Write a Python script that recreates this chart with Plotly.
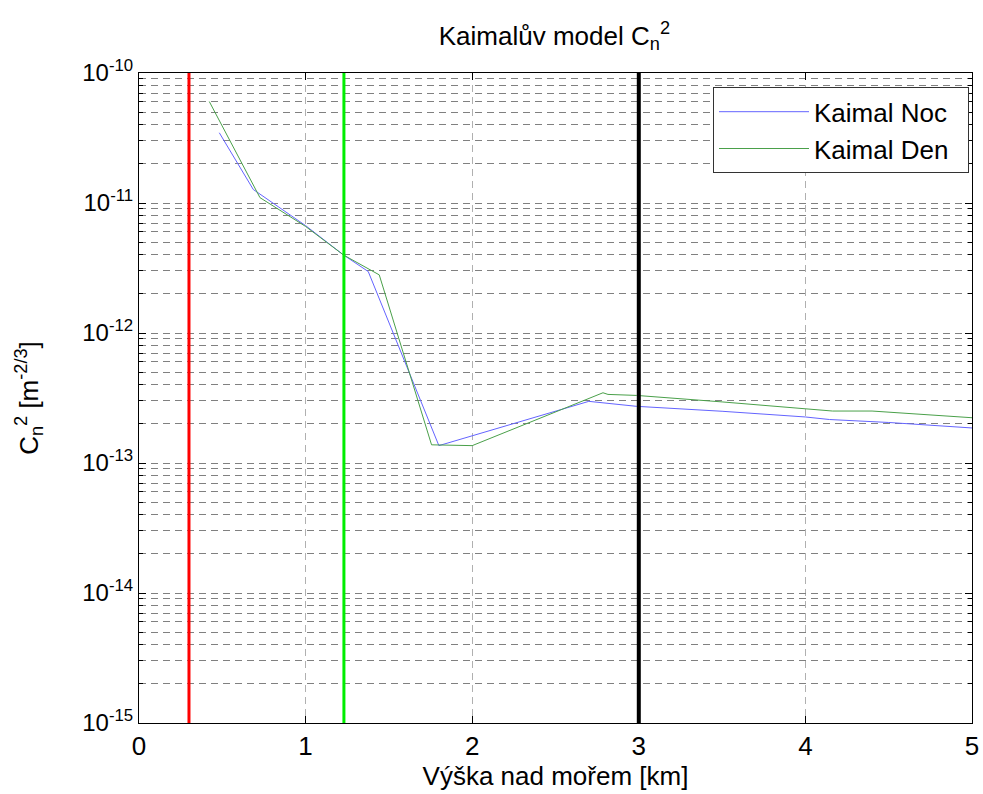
import plotly.graph_objects as go

# Kaimal C_n^2 profiles (height above sea level in km)
noc_km = [0.482, 0.686, 1.0, 1.228, 1.376, 1.80, 2.70, 2.985, 3.5, 4.0, 4.145, 4.5, 5.0]
noc_cn2 = [3.47e-11, 1.27e-11, 6.7e-12, 3.98e-12, 2.97e-12, 1.36e-13, 2.98e-13,
           2.73e-13, 2.5e-13, 2.26e-13, 2.16e-13, 2.05e-13, 1.86e-13]

den_km = [0.422, 0.726, 1.0, 1.228, 1.442, 1.756, 2.0, 2.785, 2.815, 2.986, 3.5, 4.0,
          4.163, 4.40, 5.0]
den_cn2 = [6.03e-11, 1.10e-11, 6.6e-12, 3.98e-12, 2.8e-12, 1.38e-13, 1.36e-13, 3.47e-13,
           3.37e-13, 3.31e-13, 2.95e-13, 2.61e-13, 2.51e-13, 2.51e-13, 2.23e-13]

# reference heights drawn as vertical markers
marker_km = [0.3, 1.23, 3.0]
marker_colors = ["#ff0000", "#00ee00", "#000000"]
marker_widths = [3, 3, 4]

y_lims = [1e-15, 1e-10]
decades = [-15, -14, -13, -12, -11, -10]
x_ticks = [0, 1, 2, 3, 4, 5]

FONT = "Liberation Sans, Arial, Helvetica, sans-serif"
PAD = "&nbsp;&nbsp;"

fig = go.Figure()

fig.add_trace(go.Scatter(x=noc_km, y=noc_cn2, mode="lines", name="Kaimal Noc" + PAD,
                         legendgroup="noc",
                         line=dict(color="#6464ff", width=1)))
fig.add_trace(go.Scatter(x=den_km, y=den_cn2, mode="lines", name="Kaimal Den" + PAD,
                         legendgroup="den",
                         line=dict(color="#4aa04a", width=1)))

for xv, c, w in zip(marker_km, marker_colors, marker_widths):
    fig.add_trace(go.Scatter(x=[xv, xv], y=y_lims, mode="lines", showlegend=False,
                             line=dict(color=c, width=w), hoverinfo="skip"))

fig.update_layout(
    width=983, height=794,
    margin=dict(l=139, r=11, t=73, b=71),
    paper_bgcolor="white", plot_bgcolor="white",
    font=dict(family=FONT, size=24, color="black"),
    title=dict(text="Kaimalův model C<sub>n</sub><sup>2</sup>", x=0.564, xanchor="center",
               xref="container", y=0.955, yanchor="middle", font=dict(size=26)),
    legend=dict(x=0.9964, y=0.978, xanchor="right", yanchor="top",
                bordercolor="#333333", borderwidth=1, bgcolor="white",
                font=dict(size=26), itemwidth=90, tracegroupgap=0),
    showlegend=True,
)

fig.update_xaxes(
    range=[0, 5], tickvals=x_ticks, ticktext=[str(v) for v in x_ticks],
    automargin=False,
    showline=True, linecolor="black", linewidth=1, mirror="allticks",
    ticks="inside", ticklen=7, tickcolor="black",
    showgrid=True, gridcolor="#b0b0b0", griddash="7px,5px", gridwidth=1,
    zeroline=False,
    title=dict(text="Výška nad mořem [km]", font=dict(size=26), standoff=6),
    tickfont=dict(size=26),
)

fig.update_yaxes(
    type="log", range=[-15, -10],
    automargin=False,
    tickvals=[10.0 ** d for d in decades],
    ticktext=["10<sup>%d</sup>" % d for d in decades],
    showline=True, linecolor="black", linewidth=1, mirror="allticks",
    ticks="inside", ticklen=7, tickcolor="black",
    showgrid=True, gridcolor="#808080", griddash="7px,5px", gridwidth=1,
    minor=dict(dtick="D1", showgrid=True, gridcolor="#808080", griddash="7px,5px",
               ticks="inside", ticklen=4, tickcolor="black"),
    zeroline=False,
    title=dict(text="C<sub>n</sub><sup>2</sup> [m<sup>-2/3</sup>]", font=dict(size=26),
               standoff=36),
    tickfont=dict(size=24),
)

fig.write_html("out.html")
